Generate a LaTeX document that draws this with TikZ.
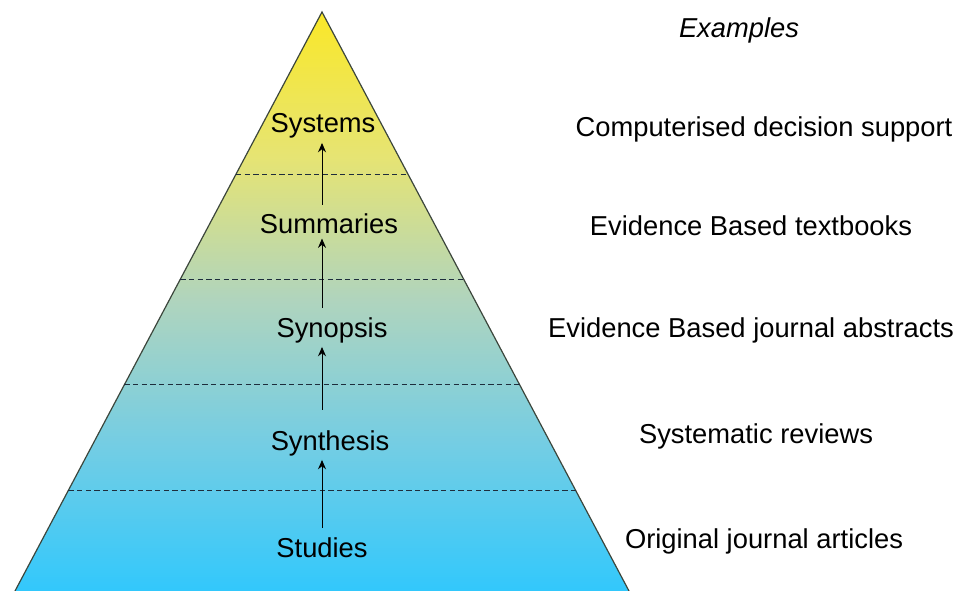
\documentclass[tikz,border=0pt]{standalone}
\usepackage{fontspec}
\setmainfont{Liberation Sans}
\usetikzlibrary{calc,arrows.meta}

\definecolor{pyrtop}{RGB}{250,232,40}
\definecolor{pyrhigh}{RGB}{230,228,115}
\definecolor{pyrmid}{RGB}{175,212,190}
\definecolor{pyrlow}{RGB}{115,205,228}
\definecolor{pyrbot}{RGB}{50,200,252}
\definecolor{pyredge}{RGB}{60,70,60}
\definecolor{pyrline}{RGB}{30,45,60}

% the colours of the pyramid, from its base up
\pgfdeclareverticalshading{pyramid}{100bp}{color(0bp)=(pyrbot); color(25bp)=(pyrbot);
  color(37.5bp)=(pyrlow); color(50bp)=(pyrmid); color(62.5bp)=(pyrhigh);
  color(75bp)=(pyrtop); color(100bp)=(pyrtop)}

\begin{document}
\begin{tikzpicture}
[x=0.75pt,y=-0.75pt,>={Stealth[length=7pt,width=6pt]},
 level/.style={font=\fontsize{20.5}{24}\selectfont,anchor=base,inner sep=3pt},
 example/.style={font=\fontsize{20.5}{24}\selectfont,anchor=base},
 divider/.style={draw=pyrline,line width=0.9pt,dash pattern=on 4pt off 2.5pt}]

% the page
\useasboundingbox (0,0) rectangle (966,591);

% the corners of the pyramid
\coordinate (T) at (322,12);
\coordinate (L) at (15,591);
\coordinate (R) at (629,591);

% the coloured pyramid
\shade[shading=pyramid] (T) -- (L) -- (R) -- cycle;
\draw[pyredge,line width=0.9pt] (L) -- (T) -- (R);

% the dashed dividers
\foreach \f in {0.280,0.462,0.644,0.826}
  \draw[divider] ($(T)!\f!(L)$) -- ($(T)!\f!(R)$);

% the levels of the pyramid
\node[level] (systems) at (323,133) {Systems};
\node[level] (summaries) at (329,234) {Summaries};
\node[level] (synopsis) at (332,337) {Synopsis};
\node[level] (synthesis) at (330,450) {Synthesis};
\node[level] (studies) at (322,557) {Studies};

% the arrows between the levels
\draw[->,line width=0.75pt,shorten <=4pt] (studies) -- (studies |- synthesis.south);
\draw[->,line width=0.75pt,shorten <=12pt] (studies |- synthesis.north) -- (studies |- synopsis.south);
\draw[->,line width=0.75pt,shorten <=4pt] (studies |- synopsis.north) -- (studies |- summaries.south);
\draw[->,line width=0.75pt,shorten <=4pt] (studies |- summaries.north) -- (studies |- systems.south);

% the examples
\node[example,font=\fontsize{20.5}{24}\selectfont\itshape] (examples) at (739,38) {Examples};
\node[example] (exsystems) at (764,137) {Computerised decision support};
\node[example] (exsummaries) at (751,236) {Evidence Based textbooks};
\node[example] (exsynopsis) at (751,337) {Evidence Based journal abstracts};
\node[example] (exsynthesis) at (756,443) {Systematic reviews};
\node[example] (exstudies) at (764,548) {Original journal articles};

\end{tikzpicture}
\end{document}
